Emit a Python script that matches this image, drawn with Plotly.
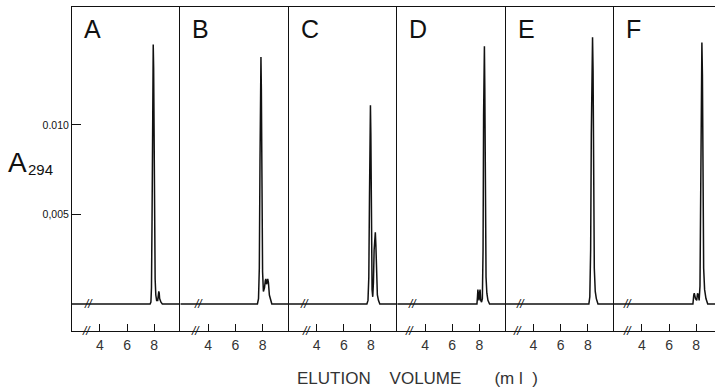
import plotly.graph_objects as go

# ---------------- data ----------------
panel_labels = ["A", "B", "C", "D", "E", "F"]
x_tick_vals = [4, 6, 8]
x_tick_text = ["4", "6", "8"]
y_tick_vals = [0.005, 0.010]
y_tick_text = ["0,005", "0.010"]
x_range = [1.95, 9.93]
y_range = [-0.00151, 0.01659]
baseline_break_x = [3.13, 3.25, 3.14, 3.11, 3.01, 2.98]
axis_break_x = [3.05, 3.03, 3.28, 2.89, 2.86, 2.91]

A_x = [1.95, 7.70, 7.76, 7.80, 7.84, 7.87, 7.90, 7.93, 7.96, 7.99, 8.03, 8.07, 8.12, 8.18,
       8.26, 8.31, 8.34, 8.37, 8.40, 8.44, 8.50, 8.60, 9.93]
A_y = [0, 0, 0.0001, 0.0009, 0.0045, 0.0100, 0.0136, 0.0145, 0.0132, 0.0095, 0.0042, 0.0014,
       0.0005, 0.0002, 0.0002, 0.0004, 0.0007, 0.0006, 0.0003, 0.0002, 0.0001, 0, 0]

B_x = [1.95, 7.62, 7.70, 7.76, 7.81, 7.85, 7.88, 7.91, 7.95, 8.00, 8.06, 8.14, 8.20, 8.24,
       8.29, 8.34, 8.38, 8.43, 8.50, 8.58, 8.68, 9.93]
B_y = [0, 0, 0.0003, 0.0020, 0.0080, 0.0128, 0.0138, 0.0120, 0.0060, 0.0018, 0.0007, 0.0009,
       0.0013, 0.0014, 0.0011, 0.0012, 0.0014, 0.0012, 0.0005, 0.0002, 0, 0]

C_x = [1.95, 7.70, 7.78, 7.84, 7.89, 7.93, 7.96, 7.99, 8.03, 8.08, 8.13, 8.18, 8.23, 8.28,
       8.32, 8.36, 8.41, 8.47, 8.55, 8.65, 9.93]
C_y = [0, 0, 0.0002, 0.0015, 0.0060, 0.0100, 0.0111, 0.0095, 0.0040, 0.0008, 0.0004, 0.0012,
       0.0030, 0.0038, 0.0040, 0.0033, 0.0015, 0.0005, 0.0002, 0, 0]

D_x = [1.95, 7.82, 7.86, 7.89, 7.93, 7.97, 8.01, 8.05, 8.10, 8.16, 8.22, 8.27, 8.31, 8.34,
       8.37, 8.40, 8.44, 8.49, 8.55, 8.63, 8.75, 9.93]
D_y = [0, 0, 0.0004, 0.0008, 0.0005, 0.0002, 0.0006, 0.0008, 0.0002, 0.0001, 0.0003, 0.0030,
       0.0105, 0.0140, 0.0144, 0.0120, 0.0050, 0.0015, 0.0006, 0.0002, 0, 0]

E_x = [1.95, 8.08, 8.15, 8.21, 8.26, 8.30, 8.35, 8.39, 8.43, 8.48, 8.55, 8.63, 8.75, 9.93]
E_y = [0, 0, 0.0004, 0.0030, 0.0095, 0.0140, 0.0149, 0.0130, 0.0065, 0.0020, 0.0007, 0.0003,
       0, 0]

F_x = [1.95, 7.76, 7.82, 7.86, 7.95, 8.04, 8.10, 8.16, 8.22, 8.28, 8.33, 8.38, 8.42, 8.46,
       8.50, 8.55, 8.62, 8.72, 8.85, 9.93]
F_y = [0, 0, 0.0005, 0.0006, 0.0003, 0.0002, 0.0006, 0.0005, 0.0002, 0.0010, 0.0060, 0.0125,
       0.0146, 0.0128, 0.0065, 0.0020, 0.0008, 0.0003, 0, 0]

series_x = [A_x, B_x, C_x, D_x, E_x, F_x]
series_y = [A_y, B_y, C_y, D_y, E_y, F_y]

# ---------------- layout geometry ----------------
W, H = 715, 389
ML, MR, MT, MB = 72, 0, 7, 58
plot_w = W - ML - MR
plot_h = H - MT - MB
panel_w = 108.4
ink = "#111111"
font_main = "Liberation Sans, Arial, sans-serif"

fig = go.Figure()
layout = dict(
    width=W, height=H,
    margin=dict(l=ML, r=MR, t=MT, b=MB, pad=0),
    paper_bgcolor="white", plot_bgcolor="white",
    showlegend=False,
    font=dict(family=font_main, color=ink),
)
annotations = []

for i in range(6):
    n = "" if i == 0 else str(i + 1)
    d0 = i * panel_w / plot_w
    d1 = min(1.0, (i + 1) * panel_w / plot_w)
    frac = (d1 - d0) / (panel_w / plot_w)
    xr = [x_range[0], x_range[0] + (x_range[1] - x_range[0]) * frac]

    fig.add_trace(go.Scatter(
        x=series_x[i], y=series_y[i], mode="lines",
        line=dict(color=ink, width=1.5),
        xaxis="x" + n, yaxis="y" + n, hoverinfo="skip",
    ))

    layout["xaxis" + n] = dict(
        domain=[d0, d1], range=xr, anchor="y" + n,
        tickmode="array", tickvals=x_tick_vals, ticktext=x_tick_text,
        ticks="inside", ticklen=7, tickwidth=1.2, tickcolor=ink,
        showline=True, linecolor=ink, linewidth=1.3, mirror=True,
        showgrid=False, zeroline=False,
        tickfont=dict(size=14, color="#333", family=font_main),
        ticklabelstandoff=1,
    )
    ydef = dict(
        domain=[0, 1], range=y_range, anchor="x" + n,
        showline=True, linecolor=ink, linewidth=1.1,
        showgrid=False, zeroline=False,
    )
    if i == 0:
        ydef.update(
            tickmode="array", tickvals=y_tick_vals, ticktext=y_tick_text,
            ticks="inside", ticklen=9, tickwidth=1.3, tickcolor=ink,
            tickfont=dict(size=10.5, color=ink, family=font_main),
        )
    else:
        ydef.update(showticklabels=False, ticks="")
    layout["yaxis" + n] = ydef

    # panel letter
    annotations.append(dict(
        text=panel_labels[i], xref="paper", yref="paper",
        x=(i * panel_w + 10) / plot_w, y=(plot_h - (29 - MT)) / plot_h,
        xanchor="left", yanchor="middle", showarrow=False,
        font=dict(size=25, color=ink, family=font_main),
    ))
    # break marks on baseline and on axis
    for bx, by in ((baseline_break_x[i], 0.0), (axis_break_x[i], y_range[0])):
        annotations.append(dict(
            text="<i>//</i>", xref="x" + n, yref="y" + n, x=bx, y=by,
            xanchor="center", yanchor="middle", showarrow=False,
            font=dict(size=12, color=ink, family=font_main),
        ))

# y-axis title A294
annotations.append(dict(
    text="A", xref="paper", yref="paper",
    x=(6 - ML) / plot_w, y=(plot_h - (162 - MT)) / plot_h,
    xanchor="left", yanchor="middle", showarrow=False,
    font=dict(size=28, color=ink, family=font_main),
))
annotations.append(dict(
    text="294", xref="paper", yref="paper",
    x=(26 - ML) / plot_w, y=(plot_h - (169 - MT)) / plot_h,
    xanchor="left", yanchor="middle", showarrow=False,
    font=dict(size=15, color=ink, family=font_main),
))
# x-axis title
nb = "\u00a0"
annotations.append(dict(
    text="ELUTION" + nb * 4 + "VOLUME" + nb * 7 + "(m" + nb + "l" + nb * 2 + ")",
    xref="paper", yref="paper",
    x=(295 - ML) / plot_w, y=-(378 - MT - plot_h) / plot_h,
    xanchor="left", yanchor="middle", showarrow=False,
    font=dict(size=17, color="#333", family=font_main),
))

layout["annotations"] = annotations
fig.update_layout(**layout)
fig.write_html("out.html")
